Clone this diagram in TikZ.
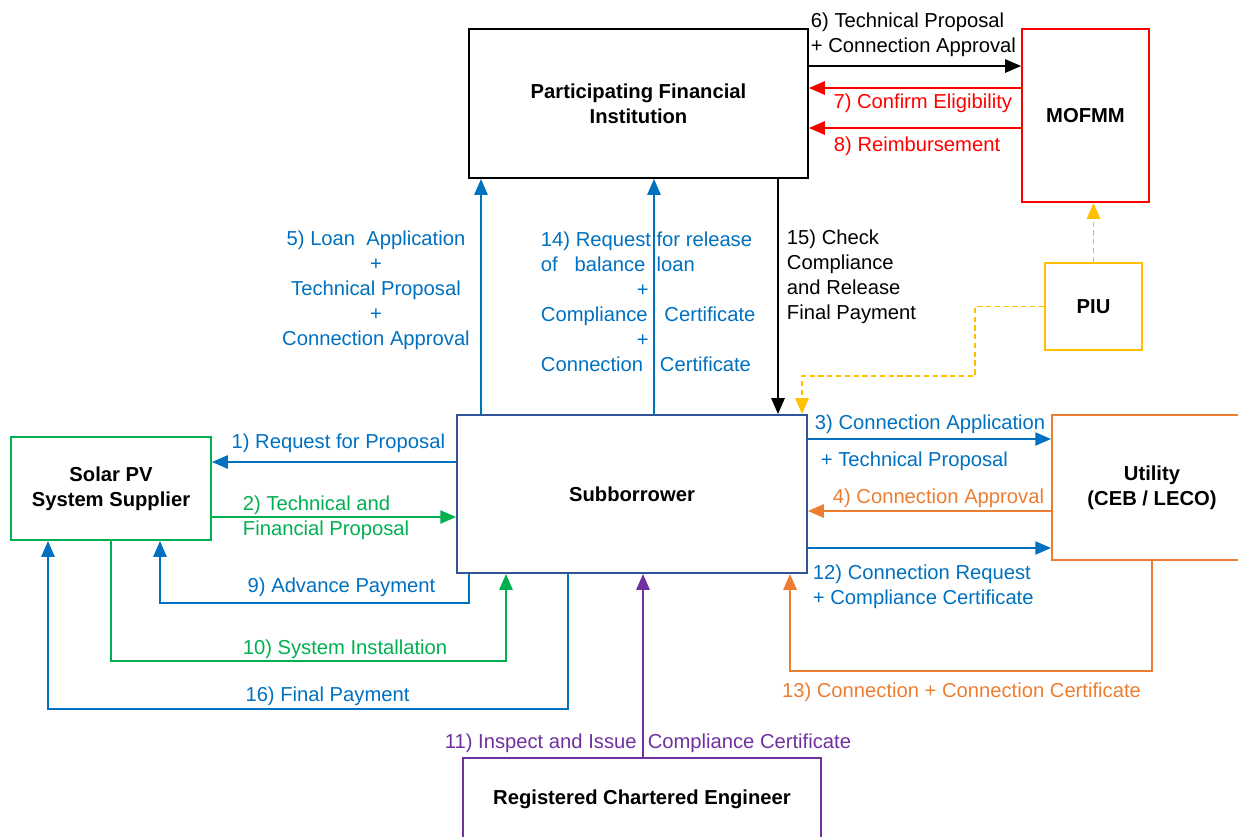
\documentclass[tikz,border=0pt]{standalone}
\usepackage{fontspec}
\setmainfont{Liberation Sans}
\usetikzlibrary{arrows.meta}
\definecolor{cblue}{HTML}{0070C0}
\definecolor{cgreen}{HTML}{00B050}
\definecolor{corange}{HTML}{ED7D31}
\definecolor{cpurple}{HTML}{7030A0}
\definecolor{cyellow}{HTML}{FFC000}
\definecolor{cnavy}{HTML}{2F5597}

\begin{document}
\begin{tikzpicture}[x=0.02cm,y=-0.02cm,->,>={Triangle[length=9pt,width=7.5pt]},line width=1.1pt,
  every node/.style={font=\fontsize{11.5}{14.2}\selectfont},
  org node/.style={rectangle,draw,fill=white,align=center,inner sep=0pt,
    font=\fontsize{11.5}{14.2}\selectfont\bfseries},
  lbl/.style={inner sep=0pt,align=left},
  piu link/.style={cyellow,dash pattern=on 3pt off 2pt}]

  \useasboundingbox (0,0) rectangle (1238,836);

  % organisations
  \node[org node,minimum width=6.78cm,minimum height=2.98cm] (pfi) at (638.5,103.5) {Participating Financial\\Institution};
  \node[org node,draw=red,minimum width=2.54cm,minimum height=3.46cm] (mofmm) at (1085.5,115.5) {MOFMM};
  \node[org node,draw=cyellow,minimum width=1.94cm,minimum height=1.74cm] (piu) at (1093.5,306.5) {PIU};
  \node[org node,draw=cnavy,minimum width=7cm,minimum height=3.16cm] (sub) at (632,494) {Subborrower};
  \node[org node,draw=cgreen,minimum width=4cm,minimum height=2.06cm] (pv) at (111,488.5) {Solar PV\\System Supplier};
  \node[org node,draw=corange,minimum width=4cm,minimum height=2.9cm] (util) at (1152,487.5) {Utility\\(CEB / LECO)};
  \node[org node,draw=cpurple,minimum width=7.16cm,minimum height=1.64cm] (eng) at (642,799) {Registered Chartered Engineer};

  % flows
  \draw (pfi.east |- 0,66) -- (mofmm.west |- 0,66);
  \draw (pfi.south -| 778,0) -- (sub.north -| 778,0);
  \draw[red] (mofmm.west |- 0,88) -- (pfi.east |- 0,88);
  \draw[red] (mofmm.west |- 0,128) -- (pfi.east |- 0,128);
  \draw[piu link] (piu.north) -- (piu.north |- mofmm.south);
  \draw[piu link] (piu.west) -| (975,376) -| (sub.north -| 802,0);

  \draw[cblue] (sub.north -| 481,0) -- (pfi.south -| 481,0);
  \draw[cblue] (sub.north -| 654,0) -- (pfi.south -| 654,0);
  \draw[cblue] (sub.west |- 0,462) -- (pv.east |- 0,462);
  \draw[cgreen] (pv.east |- 0,517) -- (sub.west |- 0,517);
  \draw[cblue] (sub.south -| 469,0) |- (160,603) -- (pv.south -| 160,0);
  \draw[cgreen] (pv.south) |- (506,661) -- (sub.south -| 506,0);
  \draw[cblue] (sub.south -| 568,0) |- (48,709) -- (pv.south -| 48,0);
  \draw[cpurple] (eng.north -| 643,0) -- (sub.south -| 643,0);

  \draw[cblue] (sub.east |- 0,439) -- (util.west |- 0,439);
  \draw[corange] (util.west |- 0,511) -- (sub.east |- 0,511);
  \draw[cblue] (sub.east |- 0,548) -- (util.west |- 0,548);
  \draw[corange] (util.south) |- (790,671) -- (sub.south -| 790,0);

  % labels
  \node[lbl,anchor=west] (l6) at (810,34.5) {6) Technical Proposal\\+ Connection Approval};
  \node[lbl,text=red,anchor=east] (l7) at (1013,103) {7) Confirm Eligibility};
  \node[lbl,text=red,anchor=west] (l8) at (833,146) {8) Reimbursement};
  \node[lbl,anchor=west] (l15) at (786,277) {15) Check\\Compliance\\and Release\\Final Payment};
  \node[lbl,text=cblue,align=center] (l5) at (376,290.5) {5) Loan\ \ Application\\+\\Technical Proposal\\+\\Connection Approval};
  \node[lbl,text=cblue,anchor=west] (l14) at (540,302) {14) Request for release\\of\ \ \ balance\ \ loan\\\hspace*{1.92cm}+\\Compliance\ \ \ Certificate\\\hspace*{1.92cm}+\\Connection\ \ \ Certificate};
  \node[lbl,text=cblue,anchor=east] (l1) at (446,443) {1) Request for Proposal};
  \node[lbl,text=cgreen,anchor=west] (l2) at (242,518) {2) Technical and\\Financial Proposal};
  \node[lbl,text=cblue] (l9) at (341.5,587) {9) Advance Payment};
  \node[lbl,text=cgreen] (l10) at (345,649) {10) System Installation};
  \node[lbl,text=cblue] (l16) at (327.5,696) {16) Final Payment};
  \node[lbl,text=cpurple] (l11) at (648,743) {11) Inspect and Issue\ \ Compliance Certificate};
  \node[lbl,text=cblue,anchor=west] (l3) at (814,424) {3) Connection Application};
  \node[lbl,text=cblue,anchor=west] (l3b) at (820,461) {+ Technical Proposal};
  \node[lbl,text=corange,anchor=east] (l4) at (1045,498) {4) Connection Approval};
  \node[lbl,text=cblue,anchor=west] (l12) at (812,586.5) {12) Connection Request\\+ Compliance Certificate};
  \node[lbl,text=corange] (l13) at (961.5,692) {13) Connection + Connection Certificate};

\end{tikzpicture}
\end{document}
